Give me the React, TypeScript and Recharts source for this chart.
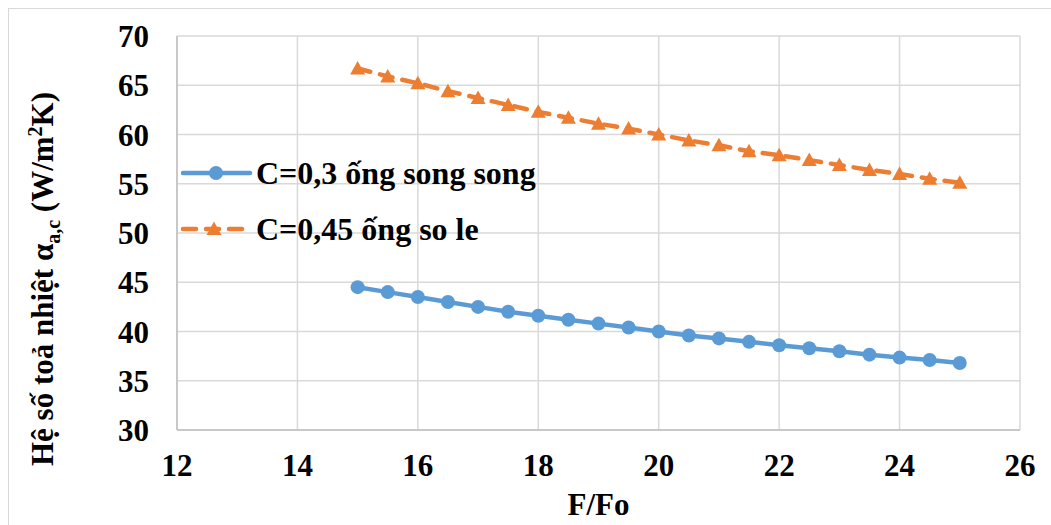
import React from "react";
import { CartesianGrid, Line, LineChart, XAxis, YAxis } from "recharts";

// F/Fo values (x axis)
const ratios = [15, 15.5, 16, 16.5, 17, 17.5, 18, 18.5, 19, 19.5, 20, 20.5, 21, 21.5, 22, 22.5, 23, 23.5, 24, 24.5, 25];
// C=0,3 ống song song
const songSong = [44.5, 44.0, 43.5, 43.0, 42.5, 42.0, 41.6, 41.2, 40.8, 40.4, 40.0, 39.6, 39.3, 38.95, 38.6, 38.3, 38.0, 37.65, 37.35, 37.1, 36.8];
// C=0,45 ống so le
const soLe = [66.7, 65.9, 65.2, 64.4, 63.7, 63.0, 62.3, 61.7, 61.1, 60.6, 60.0, 59.4, 58.9, 58.3, 57.9, 57.4, 56.9, 56.4, 56.0, 55.5, 55.1];

const xTicks = [12, 14, 16, 18, 20, 22, 24, 26];
const yTicks = [30, 35, 40, 45, 50, 55, 60, 65, 70];

const seriesNames = ["C=0,3 ống song song", "C=0,45 ống so le"];

const BLUE = "#5b9bd5";
const ORANGE = "#ed7d31";
const FONT = '"Liberation Serif", "Times New Roman", serif';

const data = ratios.map((r, i) => ({ r, a: songSong[i], b: soLe[i] }));

const Triangle = (props: any) => {
  const { cx, cy } = props;
  if (cx == null || cy == null) return null;
  return <path d={`M${cx},${cy - 7.5} L${cx + 7.5},${cy + 6} L${cx - 7.5},${cy + 6} Z`} fill={ORANGE} />;
};

const ChartLegend = () => (
  <div style={{ position: "absolute", left: 180, top: 145, fontFamily: FONT, fontWeight: "bold", fontSize: 32, color: "#000", whiteSpace: "nowrap" }}>
    <div style={{ display: "flex", alignItems: "center", height: 56 }}>
      <svg width={76} height={20}>
        <line x1={3} y1={10} x2={70} y2={10} stroke={BLUE} strokeWidth={4.5} strokeLinecap="round" />
        <circle cx={36} cy={10} r={7} fill={BLUE} />
      </svg>
      <span>{seriesNames[0]}</span>
    </div>
    <div style={{ display: "flex", alignItems: "center", height: 56 }}>
      <svg width={76} height={20}>
        <line x1={3} y1={10} x2={70} y2={10} stroke={ORANGE} strokeWidth={4.5} strokeLinecap="round" strokeDasharray="13 10" />
        <path d="M34,2.5 L41.5,16 L26.5,16 Z" fill={ORANGE} />
      </svg>
      <span>{seriesNames[1]}</span>
    </div>
  </div>
);

const YLabel = () => (
  <text
    x={0}
    y={0}
    transform="translate(53,279) rotate(-90)"
    textAnchor="middle"
    style={{ fontFamily: FONT, fontWeight: "bold", fontSize: 31 }}
    fill="#000"
  >
    Hệ số toả nhiệt α
    <tspan style={{ fontSize: 20 }} dy={7}>a,c</tspan>
    <tspan dy={-7}> (W/m</tspan>
    <tspan style={{ fontSize: 20 }} dy={-11}>2</tspan>
    <tspan dy={11}>K)</tspan>
  </text>
);

export default function App() {
  const tickStyle = { fontFamily: FONT, fontWeight: "bold", fontSize: 31, fill: "#000" };
  return (
    <div style={{ position: "absolute", left: 0, top: 0, width: 1051, height: 525, background: "#fff", fontFamily: FONT }}>
      <div
        style={{
          position: "absolute",
          left: 8,
          top: 8,
          width: 1043,
          height: 517,
          borderLeft: "1px solid #d9d9d9",
          borderTop: "1px solid #d9d9d9",
        }}
      />
      <div style={{ position: "absolute", left: 0, top: 0 }}>
        <LineChart width={1051} height={525} data={data} margin={{ top: 36, right: 31, left: 117, bottom: 25 }}>
          <CartesianGrid stroke="#d9d9d9" strokeWidth={1.5} />
          <XAxis
            dataKey="r"
            type="number"
            domain={[12, 26]}
            ticks={xTicks}
            interval={0}
            tickLine={false}
            tickSize={0}
            tickMargin={24}
            height={70}
            axisLine={{ stroke: "#bfbfbf", strokeWidth: 1.5 }}
            tick={{ style: tickStyle, fill: "#000" }}
            label={{ value: "F/Fo", position: "insideBottom", offset: -15, style: { ...tickStyle, fontSize: 31 } }}
          />
          <YAxis
            type="number"
            domain={[30, 70]}
            ticks={yTicks}
            interval={0}
            width={60}
            tickLine={false}
            tickSize={0}
            tickMargin={28}
            axisLine={{ stroke: "#bfbfbf", strokeWidth: 1.5 }}
            tick={{ style: tickStyle, fill: "#000" }}
            label={{ content: () => <YLabel /> }}
          />
          <Line
            dataKey="a"
            name={seriesNames[0]}
            stroke={BLUE}
            strokeWidth={4.5}
            dot={{ r: 7, fill: BLUE, stroke: BLUE, strokeWidth: 0 }}
            activeDot={false}
            isAnimationActive={false}
          />
          <Line
            dataKey="b"
            name={seriesNames[1]}
            stroke={ORANGE}
            strokeWidth={4.5}
            strokeDasharray="13 10"
            strokeLinecap="round"
            dot={<Triangle />}
            activeDot={false}
            isAnimationActive={false}
          />
        </LineChart>
      </div>
      <ChartLegend />
    </div>
  );
}
